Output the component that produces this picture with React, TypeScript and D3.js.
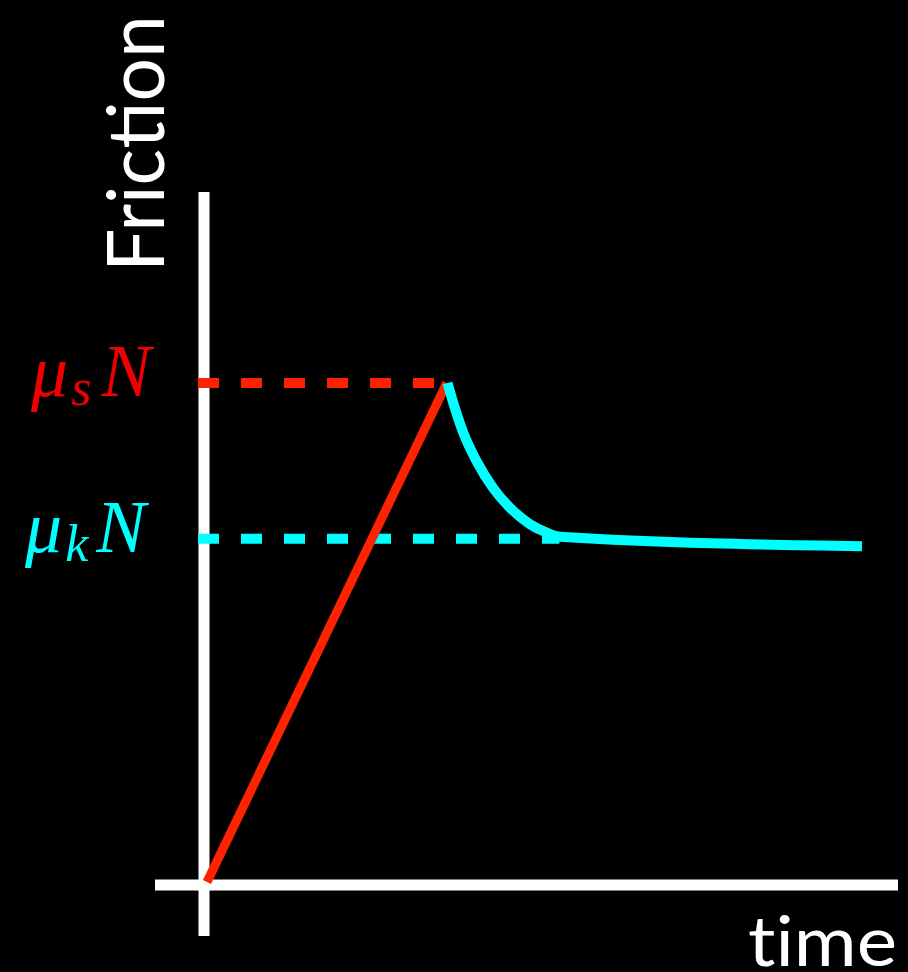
import React from "react";
import * as d3 from "d3";

const W = 908;
const H = 972;

// data (time in arbitrary units, friction as fraction of μsN)
const muS = 1.0;
const muK = 0.69;
const staticT = [0, 3.47];
const staticF = [0, 1.0];
const kineticT = [3.48, 3.56, 3.705, 3.907, 4.139, 4.385, 4.674, 4.92, 5.109, 9.479];
const kineticF = [1.0, 0.962, 0.902, 0.842, 0.79, 0.75, 0.717, 0.7, 0.692, 0.673];
const dashEndS = 3.47;
const dashEndK = 5.1;

export default function App() {
  const x = d3.scaleLinear().domain([0, 10]).range([207, 898]);
  const y = d3.scaleLinear().domain([0, 1]).range([882, 383]);
  const line = d3
    .line<[number, number]>()
    .x((d) => x(d[0]))
    .y((d) => y(d[1]));
  const curve = d3
    .line<[number, number]>()
    .x((d) => x(d[0]))
    .y((d) => y(d[1]))
    .curve(d3.curveMonotoneX);

  const staticPts = staticT.map((t, i) => [t, staticF[i]] as [number, number]);
  const kineticPts = kineticT.map((t, i) => [t, kineticF[i]] as [number, number]);

  const red = "#ff2200";
  const cyan = "#00ffff";

  return (
    <svg
      width={W}
      height={H}
      style={{ position: "absolute", left: 0, top: 0, background: "#000" }}
    >
      <rect x={0} y={0} width={W} height={H} fill="#000" />
      {/* axes */}
      <line x1={204} x2={204} y1={192} y2={936} stroke="#fff" strokeWidth={11} />
      <line x1={155} x2={898} y1={885} y2={885} stroke="#fff" strokeWidth={11} />

      {/* dashed levels */}
      <line
        x1={198}
        x2={x(dashEndS)}
        y1={y(muS)}
        y2={y(muS)}
        stroke={red}
        strokeWidth={10}
        strokeDasharray="21 22"
      />
      <line
        x1={198}
        x2={x(dashEndK)}
        y1={y(muK) + 1}
        y2={y(muK) + 1}
        stroke={cyan}
        strokeWidth={10}
        strokeDasharray="21 22"
      />

      {/* static friction ramp */}
      <path d={line(staticPts) || ""} fill="none" stroke={red} strokeWidth={9} />
      {/* kinetic friction */}
      <path d={curve(kineticPts) || ""} fill="none" stroke={cyan} strokeWidth={10} />

      {/* labels */}
      <text
        x={164}
        y={272}
        transform="rotate(-90 164 272)"
        fill="#fff"
        fontFamily="Lato, 'Open Sans', sans-serif"
        fontSize={80}
        textLength={257}
        lengthAdjust="spacingAndGlyphs"
      >
        Friction
      </text>
      <text
        x={748}
        y={966}
        fill="#fff"
        fontFamily="Lato, 'Open Sans', sans-serif"
        fontSize={70}
        textLength={149}
        lengthAdjust="spacingAndGlyphs"
        style={{ fontVariantLigatures: "none" }}
      >
        time
      </text>

      <text
        x={31}
        y={396}
        fill="#ee0000"
        fontFamily="'Liberation Serif', serif"
        fontStyle="italic"
        fontSize={74}
      >
        μ
        <tspan fontSize={52} dy={9} dx={3}>s</tspan>
        <tspan dy={-9} dx={10}>N</tspan>
      </text>
      <text
        x={25}
        y={552}
        fill={cyan}
        fontFamily="'Liberation Serif', serif"
        fontStyle="italic"
        fontSize={74}
      >
        μ
        <tspan fontSize={52} dy={9} dx={3}>k</tspan>
        <tspan dy={-9} dx={8}>N</tspan>
      </text>
    </svg>
  );
}
